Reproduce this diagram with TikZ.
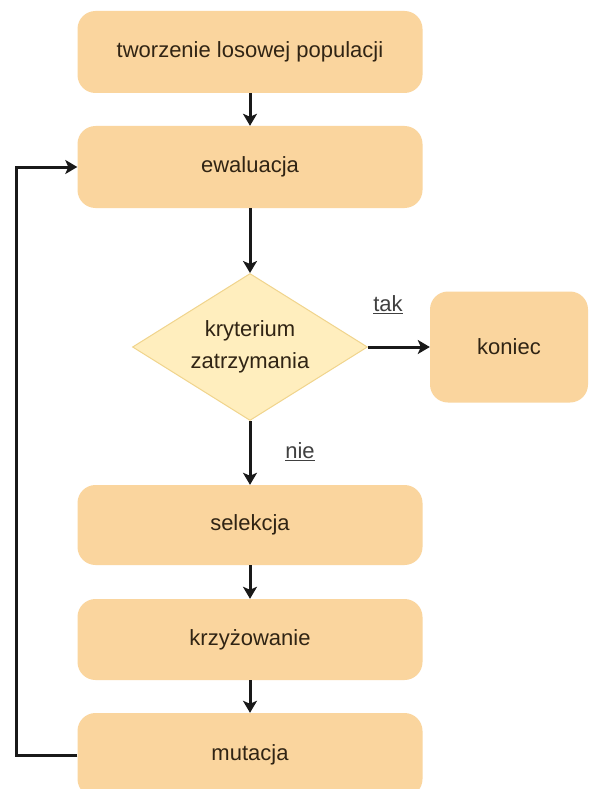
\documentclass[tikz,border=0pt]{standalone}
\usepackage{fontspec}
\setmainfont{Liberation Sans}
\usetikzlibrary{shapes.geometric,arrows.meta}
\definecolor{boxfill}{RGB}{250,213,158}
\definecolor{diafill}{RGB}{255,238,190}
\definecolor{diadraw}{RGB}{240,212,140}
\definecolor{txt}{RGB}{48,36,20}
\tikzset{
  stepbox/.style={draw=none, fill=boxfill, rounded corners=18pt, minimum width=345pt, minimum height=82pt, inner sep=0pt, text=txt, font=\fontsize{22}{32}\selectfont},
  decision/.style={shape=diamond, aspect=1.6, draw=diadraw, line width=1pt, fill=diafill, minimum width=235pt, minimum height=147pt, inner sep=0pt, text=txt, align=center, font=\fontsize{22}{32}\selectfont},
  conn/.style={line width=3pt, black!90, -{Stealth[length=12pt,width=14pt,inset=3pt]}},
  lbl/.style={text=black!75, font=\fontsize{22}{26}\selectfont, inner sep=0pt}
}
\begin{document}
\begin{tikzpicture}[x=1pt,y=-1pt]
\useasboundingbox (0,0) rectangle (589,789);
\clip (0,0) rectangle (589,789);
\fill[white] (0,0) rectangle (589,789);
\node[stepbox] (init) at (250,52) {tworzenie losowej populacji};
\node[stepbox] (eval) at (250,167) {ewaluacja};
\node[decision] (crit) at (250,347) {kryterium\\zatrzymania};
\node[stepbox, minimum width=158pt, minimum height=111pt] (end) at (509,347) {koniec};
\node[stepbox, minimum height=80pt] (sel) at (250,525) {selekcja};
\node[stepbox, minimum height=81pt] (cross) at (250,639.5) {krzyżowanie};
\node[stepbox, minimum height=84pt] (mut) at (250,755) {mutacja};
\node[lbl] (tak) at (388,305) {\underline{tak}};
\node[lbl] (nie) at (300,452) {\underline{nie}};
\coordinate (c1) at (16,755);
\coordinate (c2) at (16,167);
\draw[conn] (init.south) -- (eval.north);
\draw[conn] (eval.south) -- (crit.north);
\draw[conn] (crit.east) -- (end.west);
\draw[conn] (crit.south) -- (sel.north);
\draw[conn] (sel.south) -- (cross.north);
\draw[conn] (cross.south) -- (mut.north);
\draw[conn, line join=miter] (mut.west) -- (c1) -- (c2) -- (eval.west);
\end{tikzpicture}
\end{document}
